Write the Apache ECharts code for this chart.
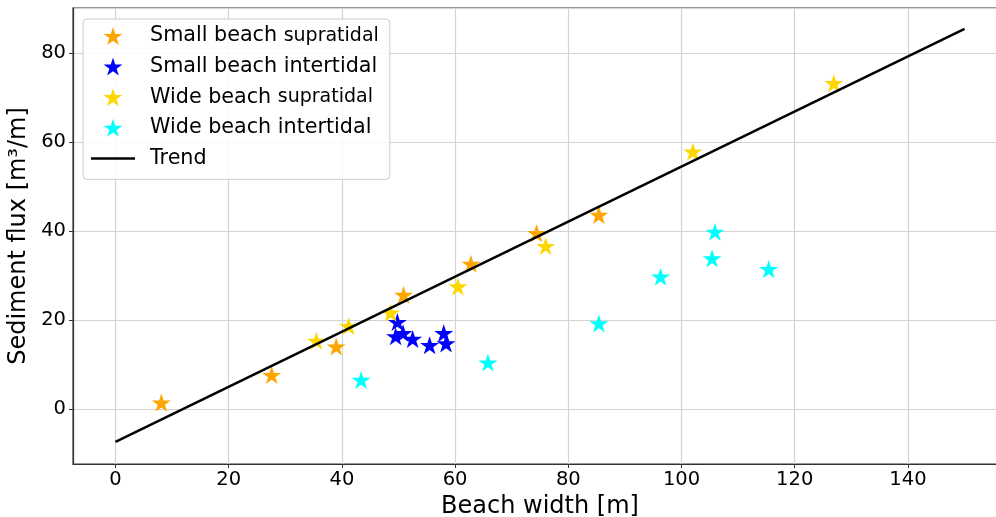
<!DOCTYPE html>
<html>
<head>
    <meta charset="utf-8">
    <title>Sediment flux vs beach width</title>
    <script src="https://cdn.jsdelivr.net/npm/echarts@6/dist/echarts.min.js"></script>
    <style>
        html, body { margin: 0; padding: 0; background: #fff; }
    </style>
</head>
<body>
    <div id="main" style="width: 996px; height: 517px;"></div>
    <script>
        // values
        var smallSupraX = [8.1, 27.6, 39.0, 50.9, 62.8, 74.4, 85.4]
        var smallSupraY = [1.5, 7.7, 14.1, 25.7, 32.7, 39.6, 43.7]
        var smallInterX = [49.8, 49.5, 50.8, 52.5, 55.5, 58.0, 58.4]
        var smallInterY = [19.6, 16.4, 17.1, 15.8, 14.4, 17.1, 14.8]
        var wideSupraX = [35.5, 41.2, 48.6, 60.5, 76.0, 102.0, 126.9]
        var wideSupraY = [15.4, 18.7, 21.7, 27.6, 36.7, 57.9, 73.3]
        var wideInterX = [43.4, 65.8, 85.4, 96.3, 105.4, 105.9, 115.4]
        var wideInterY = [6.6, 10.5, 19.3, 29.8, 33.9, 39.9, 31.5]
        var trendX = [0, 150]
        var trendY = [-7.35, 85.5]

        var xTicks = [0, 20, 40, 60, 80, 100, 120, 140]
        var yTicks = [0, 20, 40, 60, 80]

        var font = 'DejaVu Sans'
        // five point star, like matplotlib's '*'
        var star = 'path://M0,-100 L22.45,-30.9 L95.1,-30.9 L36.3,11.8 L58.8,80.9 L0,38.2 ' +
            'L-58.8,80.9 L-36.3,11.8 L-95.1,-30.9 L-22.45,-30.9 Z'
        // plain line for the trend entry of the legend
        var bar = 'path://M0,0 L44,0 L44,2.5 L0,2.5 Z'

        var zip = function(xs, ys) {
            var out = []
            for (var i = 0; i < xs.length; i++) {
                out.push([xs[i], ys[i]])
            }
            return out
        }

        var starSeries = function(name, color, xs, ys) {
            return {
                name: name,
                type: 'scatter',
                symbol: star,
                symbolSize: 19,
                symbolKeepAspect: true,
                itemStyle: { color: color, opacity: 1 },
                emphasis: { disabled: true },
                data: zip(xs, ys)
            }
        }

        var tickFormatter = function(list) {
            return function(v) {
                return list.indexOf(v) >= 0 ? String(v) : ''
            }
        }

        var myChart = echarts.init(document.querySelector('#main'))

        var option = {
            animation: false,
            backgroundColor: '#fff',
            grid: {
                left: 73,
                top: 8,
                width: 934,
                height: 456,
                outerBoundsMode: 'none',
                containLabel: false,
                show: true,
                borderColor: '#333',
                borderWidth: 1.2
            },
            legend: {
                orient: 'vertical',
                left: 83,
                top: 19,
                padding: [6, 11, 10, 8],
                itemWidth: 44,
                itemHeight: 18,
                itemGap: 8.6,
                backgroundColor: 'rgba(255,255,255,0.85)',
                borderColor: '#cccccc',
                borderWidth: 1,
                borderRadius: 4,
                textStyle: {
                    fontFamily: font,
                    fontSize: 20.7,
                    lineHeight: 22,
                    color: '#000',
                    padding: [0, 0, 0, 10],
                    rich: {
                        s: { fontFamily: font, fontSize: 19, color: '#000' }
                    }
                },
                formatter: function(name) {
                    return name.replace('supratidal', '{s|supratidal}')
                },
                data: ['Small beach supratidal', 'Small beach intertidal',
                    'Wide beach supratidal', 'Wide beach intertidal',
                    { name: 'Trend', icon: bar }]
            },
            xAxis: {
                type: 'value',
                min: -7.5,
                max: 157.5,
                splitNumber: 8,
                minInterval: 20,
                maxInterval: 20,
                name: 'Beach width [m]',
                nameLocation: 'middle',
                nameGap: 27,
                nameTextStyle: { fontFamily: font, fontSize: 24, color: '#000' },
                axisLine: { show: true, onZero: false, lineStyle: { color: '#333', width: 1.2 } },
                axisTick: { show: true, length: 4, lineStyle: { color: '#333' } },
                axisLabel: {
                    fontFamily: font, fontSize: 19.5, color: '#000', margin: 6,
                    showMinLabel: false, showMaxLabel: false,
                    formatter: tickFormatter(xTicks)
                },
                splitLine: { show: true, lineStyle: { color: '#d3d3d3', width: 1.2 } }
            },
            yAxis: {
                type: 'value',
                min: -12.3,
                max: 90.2,
                splitNumber: 5,
                minInterval: 20,
                maxInterval: 20,
                name: 'Sediment flux [m³/m]',
                nameLocation: 'middle',
                nameGap: 31,
                nameTextStyle: { fontFamily: font, fontSize: 24, color: '#000' },
                axisLine: { show: true, onZero: false, lineStyle: { color: '#333', width: 1.2 } },
                axisTick: { show: true, length: 4, lineStyle: { color: '#333' } },
                axisLabel: {
                    fontFamily: font, fontSize: 19.5, color: '#000', margin: 7,
                    showMinLabel: false, showMaxLabel: false,
                    formatter: tickFormatter(yTicks)
                },
                splitLine: { show: true, lineStyle: { color: '#d3d3d3', width: 1.2 } }
            },
            series: [
                starSeries('Small beach supratidal', '#FFA500', smallSupraX, smallSupraY),
                starSeries('Small beach intertidal', '#0000FF', smallInterX, smallInterY),
                starSeries('Wide beach supratidal', '#FFD700', wideSupraX, wideSupraY),
                starSeries('Wide beach intertidal', '#00FFFF', wideInterX, wideInterY),
                {
                    name: 'Trend',
                    type: 'line',
                    symbol: 'none',
                    showSymbol: false,
                    lineStyle: { color: '#000', width: 2.5 },
                    itemStyle: { color: '#000' },
                    emphasis: { disabled: true },
                    data: zip(trendX, trendY)
                }
            ]
        }

        myChart.setOption(option)
    </script>
</body>
</html>
